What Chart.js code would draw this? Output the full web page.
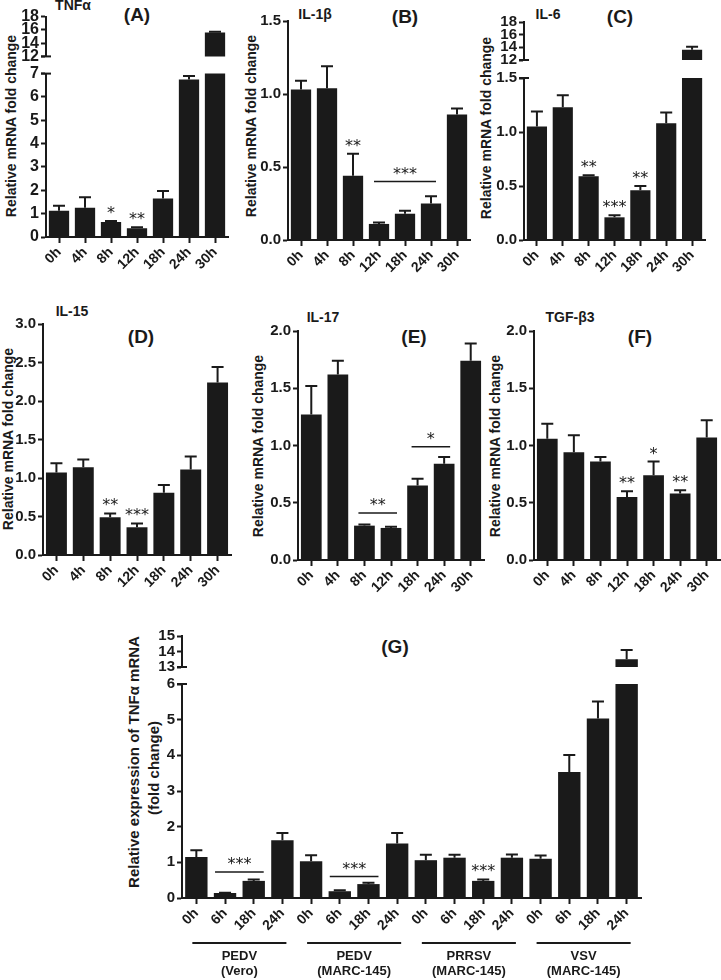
<!DOCTYPE html>
<html>
<head>
<meta charset="utf-8">
<script src="https://cdn.jsdelivr.net/npm/chart.js@4.4.1/dist/chart.umd.min.js"></script>
<style>
body { margin: 0; background: #fff; width: 721px; height: 980px; position: relative; overflow: hidden;
       font-family: "Liberation Sans", Arial, Helvetica, sans-serif; color: #1a1a1a; }
canvas { position: absolute; }
.t { position: absolute; font-weight: bold; white-space: nowrap; transform: translate(-50%, -50%); font-size: 14px; }
.p { font-size: 19px; }
.yt { transform: translate(-50%, -50%) rotate(-90deg); }
</style>
</head>
<body>

<div class="t" style="left:73px;top:5px">TNFα</div>
<div class="t p" style="left:137px;top:15px">(A)</div>
<div class="t" style="left:315px;top:14px">IL-1β</div>
<div class="t p" style="left:405px;top:17px">(B)</div>
<div class="t" style="left:548px;top:14px">IL-6</div>
<div class="t p" style="left:620px;top:17px">(C)</div>
<div class="t" style="left:72px;top:311px">IL-15</div>
<div class="t p" style="left:141px;top:337px">(D)</div>
<div class="t" style="left:323px;top:317px">IL-17</div>
<div class="t p" style="left:414px;top:337px">(E)</div>
<div class="t" style="left:570px;top:317px">TGF-β3</div>
<div class="t p" style="left:640px;top:337px">(F)</div>
<div class="t p" style="left:395px;top:647px">(G)</div>

<div class="t yt" style="left:11px;top:126px">Relative mRNA fold change</div>
<div class="t yt" style="left:251px;top:126px">Relative mRNA fold change</div>
<div class="t yt" style="left:486px;top:128px">Relative mRNA fold change</div>
<div class="t yt" style="left:8px;top:439px">Relative mRNA fold change</div>
<div class="t yt" style="left:258px;top:446px">Relative mRNA fold change</div>
<div class="t yt" style="left:495px;top:446px">Relative mRNA fold change</div>
<div class="t yt" style="left:133px;top:762px;font-size:15px">Relative expression of TNFα mRNA</div>
<div class="t yt" style="left:153px;top:768px;font-size:15px">(fold change)</div>

<script>
// ---- data ----
const hours = ['0h', '4h', '8h', '12h', '18h', '24h', '30h'];

const tnfMean = [1.12, 1.25, 0.64, 0.38, 1.65, 6.75, 15.6];
const tnfErr = [0.22, 0.45, 0.05, 0.04, 0.32, 0.15, 0.1];
const tnfStars = ['', '', '*', '**', '', '', ''];

const il1bMean = [1.03, 1.04, 0.44, 0.11, 0.18, 0.25, 0.86];
const il1bErr = [0.06, 0.15, 0.15, 0.01, 0.02, 0.05, 0.04];
const il1bStars = ['', '', '**', '', '', '', ''];
const il1bBrackets = [[3, 5, 0.4, '***']];

const il6Mean = [1.05, 1.23, 0.59, 0.21, 0.46, 1.08, 13.6];
const il6Err = [0.14, 0.11, 0.01, 0.02, 0.04, 0.1, 0.5];
const il6Stars = ['', '', '**', '***', '**', '', ''];

const il15Mean = [1.07, 1.14, 0.49, 0.36, 0.81, 1.11, 2.24];
const il15Err = [0.12, 0.1, 0.05, 0.05, 0.1, 0.17, 0.2];
const il15Stars = ['', '', '**', '***', '', '', ''];

const il17Mean = [1.27, 1.62, 0.3, 0.28, 0.65, 0.84, 1.74];
const il17Err = [0.25, 0.12, 0.01, 0.01, 0.06, 0.06, 0.15];
const il17Brackets = [[2, 3, 0.41, '**'], [4, 5, 0.99, '*']];

const tgfMean = [1.06, 0.94, 0.86, 0.55, 0.74, 0.58, 1.07];
const tgfErr = [0.13, 0.15, 0.04, 0.05, 0.12, 0.03, 0.15];
const tgfStars = ['', '', '', '**', '*', '**', ''];

const virusHours = ['0h', '6h', '18h', '24h', '0h', '6h', '18h', '24h',
                    '0h', '6h', '18h', '24h', '0h', '6h', '18h', '24h'];
const virusMean = [1.15, 0.14, 0.48, 1.62, 1.03, 0.19, 0.39, 1.53,
                   1.06, 1.13, 0.48, 1.13, 1.1, 3.53, 5.03, 13.5];
const virusErr = [0.19, 0.01, 0.04, 0.2, 0.17, 0.03, 0.04, 0.29,
                  0.15, 0.08, 0.04, 0.09, 0.09, 0.48, 0.48, 0.6];
const virusStars = ['', '', '', '', '', '', '', '', '', '', '***', '', '', '', '', ''];
const virusBrackets = [[1, 2, 0.73, '***'], [5, 6, 0.6, '***']];
const virusGroups = ['PEDV', 'PEDV', 'PRRSV', 'VSV'];
const virusCells = ['(Vero)', '(MARC-145)', '(MARC-145)', '(MARC-145)'];

// ---- drawing ----
Chart.defaults.font.family = '"Liberation Sans", Arial, Helvetica, sans-serif';
Chart.defaults.font.weight = 'bold';
Chart.defaults.color = '#1a1a1a';

const INK = '#1a1a1a';
const YW = 40, PL = 4, PT = 10, PR = 8, PB = 8;

// error bars, stars, brackets, axis-break caps, group labels
function makeMarks(o) {
  return {
    id: 'marks',
    afterDatasetsDraw(chart) {
      const ctx = chart.ctx, a = chart.chartArea, y = chart.scales.y;
      const bars = chart.getDatasetMeta(0).data;
      const mean = chart.data.datasets[0].data;
      const inRange = i => mean[i] >= y.min && mean[i] <= y.max;
      ctx.save();
      ctx.strokeStyle = INK;
      ctx.fillStyle = INK;
      ctx.lineWidth = 2;
      bars.forEach((b, i) => {
        if (!inRange(i)) return;
        const top = y.getPixelForValue(mean[i] + o.err[i]);
        ctx.beginPath();
        ctx.moveTo(b.x, b.y);
        ctx.lineTo(b.x, top);
        ctx.moveTo(b.x - 6, top);
        ctx.lineTo(b.x + 6, top);
        ctx.stroke();
      });
      ctx.font = '16px "DejaVu Sans"';
      ctx.textAlign = 'center';
      ctx.textBaseline = 'alphabetic';
      if (o.stars) {
        bars.forEach((b, i) => {
          if (!o.stars[i] || !inRange(i)) return;
          ctx.fillText(o.stars[i], b.x, y.getPixelForValue(mean[i] + o.err[i]) - 3);
        });
      }
      (o.brackets || []).forEach(([i, j, v, s]) => {
        const yy = y.getPixelForValue(v);
        const pad = o.bpad || 6;
        ctx.lineWidth = 1.5;
        ctx.beginPath();
        ctx.moveTo(bars[i].x - pad, yy);
        ctx.lineTo(bars[j].x + pad, yy);
        ctx.stroke();
        ctx.fillText(s, (bars[i].x + bars[j].x) / 2, yy - 3);
      });
      if (o.brk) {
        const yy = o.brk === 'top' ? a.top : a.bottom;
        ctx.lineWidth = 2;
        ctx.beginPath();
        ctx.moveTo(a.left - 5, yy);
        ctx.lineTo(a.left + 5, yy);
        ctx.stroke();
      }
      if (o.groups) {
        const n = bars.length / o.groups.length;
        o.groups.forEach((g, k) => {
          const x0 = bars[k * n].x - 4, x1 = bars[k * n + n - 1].x + 4;
          const yy = a.bottom + 45;
          ctx.lineWidth = 2;
          ctx.beginPath();
          ctx.moveTo(x0, yy);
          ctx.lineTo(x1, yy);
          ctx.stroke();
          ctx.font = 'bold 13px "Liberation Sans", Arial, sans-serif';
          ctx.textBaseline = 'middle';
          ctx.fillText(g, (x0 + x1) / 2, yy + 13);
          ctx.fillText(o.cells[k], (x0 + x1) / 2, yy + 28);
        });
      }
      ctx.restore();
    }
  };
}

function panel(area, labels, mean, o) {
  const xh = o.xh || 0;
  const c = document.createElement('canvas');
  c.width = area.r - area.l + YW + PL + PR;
  c.height = area.b - area.t + PT + PB + xh;
  c.style.left = (area.l - YW - PL) + 'px';
  c.style.top = (area.t - PT) + 'px';
  document.body.appendChild(c);
  return new Chart(c, {
    type: 'bar',
    data: {
      labels: labels,
      datasets: [{ data: mean, backgroundColor: INK, barPercentage: 0.78, categoryPercentage: 1, clip: 0 }]
    },
    options: {
      responsive: false,
      animation: false,
      events: [],
      layout: { padding: { left: PL, top: PT, right: PR, bottom: PB } },
      plugins: { legend: { display: false }, tooltip: { enabled: false } },
      scales: {
        x: {
          display: xh > 0,
          grid: { drawOnChartArea: false, offset: false, tickLength: 6, tickWidth: 2, color: INK },
          border: { color: INK, width: 2 },
          ticks: { autoSkip: false, minRotation: 45, maxRotation: 45, padding: 1, font: { size: 14 } },
          afterFit: s => { s.height = xh; }
        },
        y: {
          min: o.min,
          max: o.max,
          grid: { drawOnChartArea: false, tickLength: 5, tickWidth: 2, color: INK },
          border: { color: INK, width: 2 },
          ticks: {
            autoSkip: false, stepSize: o.step, padding: 2, font: { size: o.yf || 15 },
            callback: v => o.dec ? v.toFixed(1) : v
          },
          afterFit: s => { s.width = YW; }
        }
      }
    },
    plugins: [makeMarks(o)]
  });
}

// (A) TNFα, broken axis
panel({ l: 46, r: 228, t: 15, b: 60 }, hours, tnfMean, { min: 12, max: 18, step: 2, yf: 16, err: tnfErr, brk: 'bottom' });
panel({ l: 46, r: 228, t: 72, b: 237 }, hours, tnfMean, { min: 0, max: 7, step: 1, yf: 16, xh: 45, err: tnfErr, stars: tnfStars, brk: 'top' });
// (B) IL-1β
panel({ l: 288, r: 470, t: 20, b: 240 }, hours, il1bMean, { min: 0, max: 1.5, step: 0.5, dec: true, xh: 45, err: il1bErr, stars: il1bStars, brackets: il1bBrackets, bpad: 5 });
// (C) IL-6, broken axis
panel({ l: 524, r: 705, t: 21, b: 63 }, hours, il6Mean, { min: 12, max: 18, step: 2, err: il6Err, brk: 'bottom' });
panel({ l: 524, r: 705, t: 77, b: 240 }, hours, il6Mean, { min: 0, max: 1.5, step: 0.5, dec: true, xh: 45, err: il6Err, stars: il6Stars, brk: 'top' });
// (D) IL-15
panel({ l: 43, r: 231, t: 323, b: 555 }, hours, il15Mean, { min: 0, max: 3, step: 0.5, dec: true, xh: 45, err: il15Err, stars: il15Stars });
// (E) IL-17
panel({ l: 298, r: 484, t: 330, b: 560 }, hours, il17Mean, { min: 0, max: 2, step: 0.5, dec: true, xh: 45, err: il17Err, brackets: il17Brackets, bpad: 6 });
// (F) TGF-β3
panel({ l: 534, r: 720, t: 330, b: 560 }, hours, tgfMean, { min: 0, max: 2, step: 0.5, dec: true, xh: 45, err: tgfErr, stars: tgfStars });
// (G) TNFα in infected cells, broken axis
panel({ l: 182, r: 641, t: 635, b: 670 }, virusHours, virusMean, { min: 13, max: 15, step: 1, err: virusErr, brk: 'bottom' });
panel({ l: 182, r: 641, t: 683, b: 898 }, virusHours, virusMean, { min: 0, max: 6, step: 1, xh: 80, err: virusErr, stars: virusStars, brackets: virusBrackets, bpad: 10, groups: virusGroups, cells: virusCells, brk: 'top' });
</script>
</body>
</html>
